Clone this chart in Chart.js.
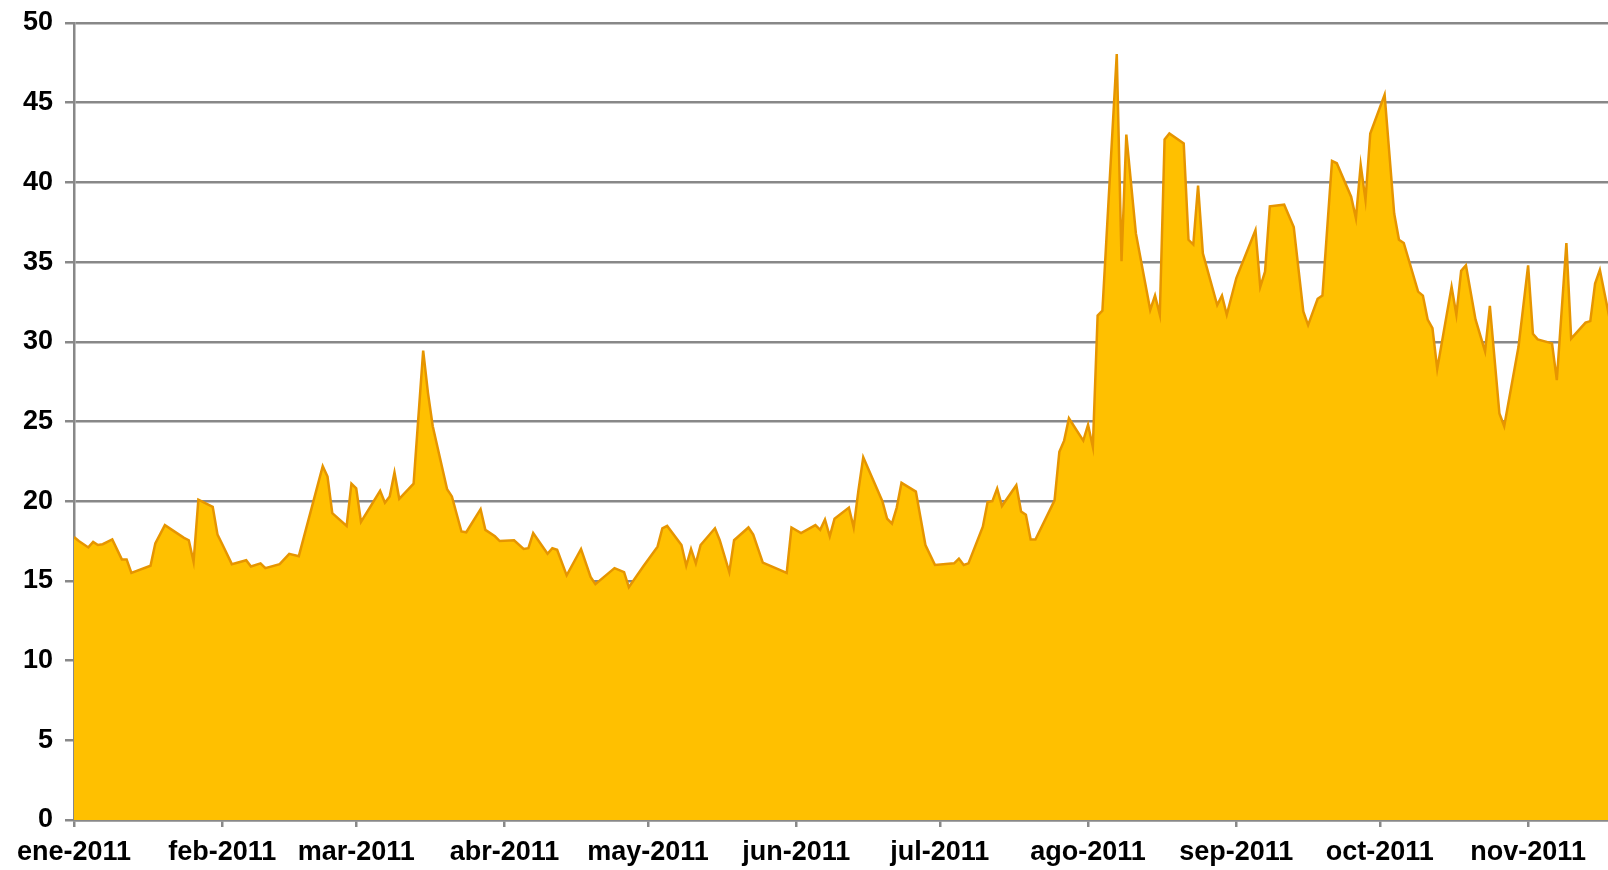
<!DOCTYPE html>
<html lang="es">
<head>
    <meta charset="UTF-8">
    <title>Precio 2011</title>
    <script src="https://cdn.jsdelivr.net/npm/chart.js"></script>
    <style>
        html, body { margin: 0; padding: 0; background: #ffffff; }
        .chart-box { width: 1608px; height: 870px; }
    </style>
</head>
<body>
    <div class="chart-box">
        <canvas id="priceChart"></canvas>
    </div>

    <script>
        // Days counted from 1-ene-2011
        const days = [0, 1, 3, 4, 5, 6, 8, 10, 11, 12, 16, 17, 19, 23, 24, 25, 26, 29, 30, 31,
            33, 36, 37, 39, 40, 43, 45, 47, 52, 53, 54, 57, 58, 59, 60, 64, 65, 66, 67, 68,
            71, 73, 74, 75, 78, 79, 81, 82, 85, 86, 88, 89, 92, 94, 95, 96, 99, 100, 101, 103,
            106, 108, 109, 113, 115, 116, 119, 122, 123, 124, 127, 128, 129, 130, 131, 134, 135, 137, 138, 141,
            142, 144, 149, 150, 152, 155, 156, 157, 158, 159, 162, 163, 164, 165, 169, 170, 171, 172, 173, 176,
            178, 180, 184, 185, 186, 187, 190, 191, 192, 193, 194, 197, 198, 199, 200, 201, 205, 206, 207, 208,
            211, 212, 213, 214, 215, 218, 219, 220, 222, 225, 226, 227, 228, 229, 232, 233, 234, 235, 236, 239,
            240, 241, 243, 247, 248, 249, 250, 253, 255, 257, 258, 260, 261, 263, 264, 267, 268, 269, 270, 271,
            274, 276, 277, 278, 281, 282, 283, 284, 285, 288, 289, 290, 291, 293, 295, 296, 298, 299, 302, 304,
            305, 306, 309, 310, 312, 313, 316, 317, 318, 319, 321];
        const prices = [17.75, 17.5, 17.1, 17.45, 17.25, 17.3, 17.6, 16.35, 16.35, 15.5, 15.95, 17.35, 18.5, 17.7, 17.55, 16.2, 20.1, 19.65, 17.9, 17.3,
            16.05, 16.3, 15.9, 16.1, 15.8, 16.05, 16.7, 16.55, 22.2, 21.55, 19.25, 18.45, 21.1, 20.8, 18.7, 20.65, 19.9, 20.3, 21.8, 20.15,
            21.1, 29.45, 26.8, 24.7, 20.75, 20.3, 18.1, 18.05, 19.5, 18.2, 17.8, 17.5, 17.55, 17.0, 17.05, 18.0, 16.7, 17.05, 16.95, 15.35,
            17.0, 15.25, 14.8, 15.8, 15.55, 14.6, 15.9, 17.15, 18.3, 18.45, 17.25, 15.95, 17.0, 16.1, 17.25, 18.3, 17.55, 15.55, 17.55, 18.35,
            17.9, 16.15, 15.5, 18.35, 18.0, 18.5, 18.2, 18.85, 17.8, 18.9, 19.6, 18.35, 20.7, 22.75, 20.0, 18.9, 18.6, 19.6, 21.15, 20.6,
            17.25, 16.0, 16.1, 16.4, 16.0, 16.1, 18.4, 19.95, 20.0, 20.8, 19.7, 21.0, 19.35, 19.15, 17.6, 17.6, 20.05, 23.1, 23.8, 25.2,
            23.8, 24.8, 23.4, 31.65, 31.95, 48.05, 35.05, 43.0, 36.8, 32.0, 32.9, 31.7, 42.7, 43.07, 42.45, 36.4, 36.1, 39.8, 35.55, 32.3,
            32.9, 31.7, 34.0, 37.0, 33.45, 34.4, 38.5, 38.6, 37.2, 31.9, 31.05, 32.7, 32.9, 41.35, 41.2, 39.1, 37.75, 41.1, 38.9, 43.07,
            45.5, 38.05, 36.4, 36.2, 33.15, 32.9, 31.4, 30.85, 28.3, 33.45, 31.7, 34.45, 34.8, 31.4, 29.4, 32.25, 25.5, 24.7, 29.7, 34.8,
            30.5, 30.15, 29.9, 27.6, 36.2, 30.2, 31.2, 31.3, 33.65, 34.5, 31.5];

        // Month ticks on the x axis
        const monthStarts = [0, 31, 59, 90, 120, 151, 181, 212, 243, 273, 304];
        const monthLabels = ['ene-2011', 'feb-2011', 'mar-2011', 'abr-2011', 'may-2011', 'jun-2011',
            'jul-2011', 'ago-2011', 'sep-2011', 'oct-2011', 'nov-2011'];

        const axisFont = { family: "'Liberation Sans', Arial, sans-serif", size: 27, weight: 'bold' };

        const ctx = document.getElementById('priceChart').getContext('2d');
        const priceChart = new Chart(ctx, {
            type: 'line',
            data: {
                datasets: [{
                    data: days.map((d, i) => ({ x: d, y: prices[i] })),
                    fill: 'origin',
                    backgroundColor: '#FFC000',
                    borderColor: '#E69500',
                    borderWidth: 2.5,
                    pointRadius: 0,
                    tension: 0
                }]
            },
            options: {
                responsive: true,
                maintainAspectRatio: false,
                animation: false,
                layout: { padding: 0 },
                plugins: {
                    legend: { display: false },
                    tooltip: { enabled: false }
                },
                scales: {
                    x: {
                        type: 'linear',
                        min: 0,
                        max: 320.7,
                        afterBuildTicks: (scale) => {
                            scale.ticks = monthStarts.map(v => ({ value: v }));
                        },
                        afterFit: (scale) => { scale.height = 50; },
                        ticks: {
                            autoSkip: false,
                            maxRotation: 0,
                            padding: 9,
                            color: '#000000',
                            font: axisFont,
                            callback: (value) => monthLabels[monthStarts.indexOf(value)]
                        },
                        grid: {
                            drawOnChartArea: false,
                            drawTicks: true,
                            tickLength: 7,
                            color: '#888888',
                            lineWidth: 2.5
                        },
                        border: { color: '#888888', width: 2.5 }
                    },
                    y: {
                        min: 0,
                        max: 50,
                        afterFit: (scale) => {
                            scale.width = 74;
                            scale.paddingTop = 23;
                        },
                        ticks: {
                            stepSize: 5,
                            padding: 12,
                            color: '#000000',
                            font: axisFont
                        },
                        grid: {
                            color: '#888888',
                            lineWidth: 2.5,
                            tickLength: 9
                        },
                        border: { color: '#888888', width: 2.5 }
                    }
                }
            }
        });
    </script>
</body>
</html>
